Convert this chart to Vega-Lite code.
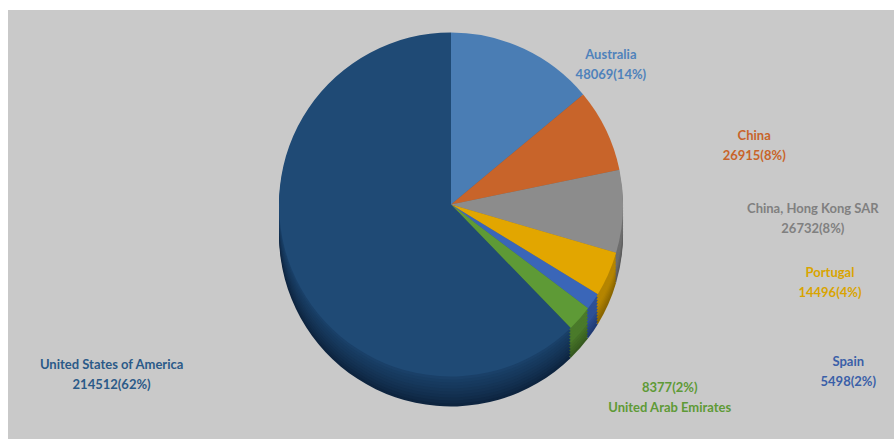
{
  "$schema": "https://vega.github.io/schema/vega-lite/v6.json",
  "autosize": {"type": "fit", "contains": "padding"},
  "width": 894,
  "height": 439,
  "padding": {"left": 8, "top": 10, "right": 0, "bottom": 0},
  "background": "#ffffff",
  "view": {"fill": "#c9c9c9", "stroke": null},
  "data": {
    "values": [
      {"country": "Australia", "value": 48069, "order": 1, "label": "Australia\n48069(14%)"},
      {"country": "China", "value": 26915, "order": 2, "label": "China\n26915(8%)"},
      {"country": "China, Hong Kong SAR", "value": 26732, "order": 3, "label": "China, Hong Kong SAR\n26732(8%)"},
      {"country": "Portugal", "value": 14496, "order": 4, "label": "Portugal\n14496(4%)"},
      {"country": "Spain", "value": 5498, "order": 5, "label": "Spain\n5498(2%)"},
      {"country": "United Arab Emirates", "value": 8377, "order": 6, "label": "8377(2%)\nUnited Arab Emirates"},
      {"country": "United States of America", "value": 214512, "order": 7, "label": "United States of America\n214512(62%)"}
    ]
  },
  "encoding": {
    "theta": {"field": "value", "type": "quantitative", "stack": true},
    "order": {"field": "order", "type": "quantitative"}
  },
  "layer": [
    {"mark": {"type": "arc", "outerRadius": 172, "yOffset": 10},
     "encoding": {"color": {"field": "country", "type": "nominal", "legend": null, "scale": {"domain": ["Australia", "China", "China, Hong Kong SAR", "Portugal", "Spain", "United Arab Emirates", "United States of America"], "range": ["#2f5275", "#80401a", "#5a5a5a", "#8a6600", "#203a72", "#36591f", "#0d243f"]}}}},
    {"mark": {"type": "arc", "outerRadius": 172, "yOffset": 7},
     "encoding": {"color": {"field": "country", "type": "nominal", "legend": null, "scale": {"domain": ["Australia", "China", "China, Hong Kong SAR", "Portugal", "Spain", "United Arab Emirates", "United States of America"], "range": ["#2f5275", "#80401a", "#5a5a5a", "#8f6a00", "#223e78", "#3a6121", "#0f2845"]}}}},
    {"mark": {"type": "arc", "outerRadius": 172, "yOffset": 4},
     "encoding": {"color": {"field": "country", "type": "nominal", "legend": null, "scale": {"domain": ["Australia", "China", "China, Hong Kong SAR", "Portugal", "Spain", "United Arab Emirates", "United States of America"], "range": ["#335880", "#884418", "#606060", "#987000", "#25427e", "#3d6623", "#112c4a"]}}}},
    {"mark": {"type": "arc", "outerRadius": 172, "yOffset": 1},
     "encoding": {"color": {"field": "country", "type": "nominal", "legend": null, "scale": {"domain": ["Australia", "China", "China, Hong Kong SAR", "Portugal", "Spain", "United Arab Emirates", "United States of America"], "range": ["#355c86", "#904818", "#646464", "#a07600", "#284684", "#416b25", "#122f4f"]}}}},
    {"mark": {"type": "arc", "outerRadius": 172, "yOffset": -2},
     "encoding": {"color": {"field": "country", "type": "nominal", "legend": null, "scale": {"domain": ["Australia", "China", "China, Hong Kong SAR", "Portugal", "Spain", "United Arab Emirates", "United States of America"], "range": ["#38608a", "#984c1c", "#686868", "#a87c00", "#2a4a8a", "#447027", "#143253"]}}}},
    {"mark": {"type": "arc", "outerRadius": 172, "yOffset": -5},
     "encoding": {"color": {"field": "country", "type": "nominal", "legend": null, "scale": {"domain": ["Australia", "China", "China, Hong Kong SAR", "Portugal", "Spain", "United Arab Emirates", "United States of America"], "range": ["#3a6490", "#a04f20", "#6e6e6e", "#b08200", "#2d5096", "#4a7a2a", "#153557"]}}}},
    {"mark": {"type": "arc", "outerRadius": 172, "yOffset": -8},
     "encoding": {"color": {"field": "country", "type": "nominal", "legend": null, "scale": {"domain": ["Australia", "China", "China, Hong Kong SAR", "Portugal", "Spain", "United Arab Emirates", "United States of America"], "range": ["#3a6490", "#a04f20", "#6e6e6e", "#b58500", "#2d5096", "#4a7a2a", "#16385c"]}}}},
    {"mark": {"type": "arc", "outerRadius": 172, "yOffset": -11},
     "encoding": {"color": {"field": "country", "type": "nominal", "legend": null, "scale": {"domain": ["Australia", "China", "China, Hong Kong SAR", "Portugal", "Spain", "United Arab Emirates", "United States of America"], "range": ["#3a6490", "#a04f20", "#6e6e6e", "#b58500", "#2d5096", "#4a7a2a", "#173a5f"]}}}},
    {"mark": {"type": "arc", "outerRadius": 172, "yOffset": -14},
     "encoding": {"color": {"field": "country", "type": "nominal", "legend": null, "scale": {"domain": ["Australia", "China", "China, Hong Kong SAR", "Portugal", "Spain", "United Arab Emirates", "United States of America"], "range": ["#3a6490", "#a04f20", "#6e6e6e", "#b58500", "#2d5096", "#4a7a2a", "#183d63"]}}}},
    {"mark": {"type": "arc", "outerRadius": 172, "yOffset": -17},
     "encoding": {"color": {"field": "country", "type": "nominal", "legend": null, "scale": {"domain": ["Australia", "China", "China, Hong Kong SAR", "Portugal", "Spain", "United Arab Emirates", "United States of America"], "range": ["#3a6490", "#a04f20", "#6e6e6e", "#b58500", "#2d5096", "#4a7a2a", "#1a4068"]}}}},
    {"mark": {"type": "arc", "outerRadius": 172, "yOffset": -20},
     "encoding": {"color": {"field": "country", "type": "nominal", "legend": null, "scale": {"domain": ["Australia", "China", "China, Hong Kong SAR", "Portugal", "Spain", "United Arab Emirates", "United States of America"], "range": ["#4a7db4", "#c8642a", "#8c8c8c", "#e2a600", "#3a66b8", "#5e9a36", "#1f4a75"]}}}},
    {
      "mark": {"type": "text", "radius": 200, "yOffset": -20, "dx": 75, "dy": 32, "font": "Lato", "fontWeight": "bold", "fontSize": 13, "lineBreak": "\n", "lineHeight": 20, "align": "center", "baseline": "middle", "color": "#4f82bb"},
      "encoding": {"text": {"condition": {"test": "datum.country === 'Australia'", "field": "label"}, "value": ""}}
    },
    {
      "mark": {"type": "text", "radius": 200, "yOffset": -20, "dx": 123, "dy": 18, "font": "Lato", "fontWeight": "bold", "fontSize": 13, "lineBreak": "\n", "lineHeight": 20, "align": "center", "baseline": "middle", "color": "#c8642a"},
      "encoding": {"text": {"condition": {"test": "datum.country === 'China'", "field": "label"}, "value": ""}}
    },
    {
      "mark": {"type": "text", "radius": 200, "yOffset": -20, "dx": 162, "dy": -4, "font": "Lato", "fontWeight": "bold", "fontSize": 13, "lineBreak": "\n", "lineHeight": 20, "align": "center", "baseline": "middle", "color": "#808080"},
      "encoding": {"text": {"condition": {"test": "datum.country === 'China, Hong Kong SAR'", "field": "label"}, "value": ""}}
    },
    {
      "mark": {"type": "text", "radius": 200, "yOffset": -20, "dx": 196, "dy": -12, "font": "Lato", "fontWeight": "bold", "fontSize": 13, "lineBreak": "\n", "lineHeight": 20, "align": "center", "baseline": "middle", "color": "#d9a400"},
      "encoding": {"text": {"condition": {"test": "datum.country === 'Portugal'", "field": "label"}, "value": ""}}
    },
    {
      "mark": {"type": "text", "radius": 200, "yOffset": -20, "dx": 232, "dy": 45, "font": "Lato", "fontWeight": "bold", "fontSize": 13, "lineBreak": "\n", "lineHeight": 20, "align": "center", "baseline": "middle", "color": "#3a5fa8"},
      "encoding": {"text": {"condition": {"test": "datum.country === 'Spain'", "field": "label"}, "value": ""}}
    },
    {
      "mark": {"type": "text", "radius": 200, "yOffset": -20, "dx": 69, "dy": 51, "font": "Lato", "fontWeight": "bold", "fontSize": 13, "lineBreak": "\n", "lineHeight": 20, "align": "center", "baseline": "middle", "color": "#5e9a36"},
      "encoding": {"text": {"condition": {"test": "datum.country === 'United Arab Emirates'", "field": "label"}, "value": ""}}
    },
    {
      "mark": {"type": "text", "radius": 200, "yOffset": -20, "dx": -154, "dy": 85, "font": "Lato", "fontWeight": "bold", "fontSize": 13, "lineBreak": "\n", "lineHeight": 20, "align": "center", "baseline": "middle", "color": "#2b5a88"},
      "encoding": {"text": {"condition": {"test": "datum.country === 'United States of America'", "field": "label"}, "value": ""}}
    }
  ],
  "resolve": {"scale": {"color": "independent"}}
}
